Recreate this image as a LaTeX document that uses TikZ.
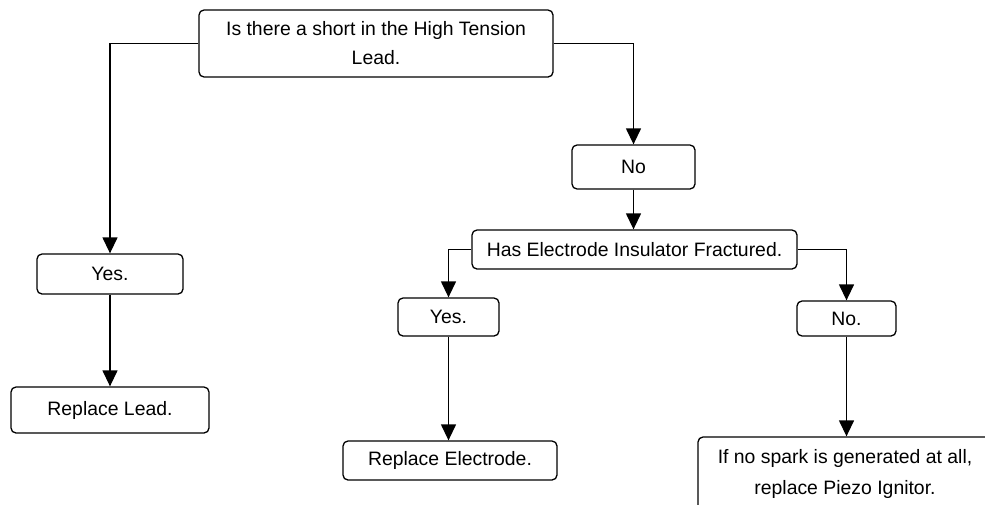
\documentclass[tikz,border=0pt]{standalone}
\usepackage{fontspec}
\setmainfont{Liberation Sans}
\usetikzlibrary{arrows.meta}
\begin{document}
\begin{tikzpicture}[x=1pt,y=-1pt,
  box/.style={draw, rounded corners=5pt, line width=1.3pt, align=center, inner sep=0pt,
    font=\fontsize{19.4pt}{29pt}\selectfont},
  conn/.style={line width=1.3pt, -{Triangle[width=15pt,length=16pt]}}]
\useasboundingbox (0,0) rectangle (985,504);
\node[box, minimum width=354pt, minimum height=67pt] (top) at (376,43.5) {Is there a short in the High Tension\\Lead.};
\node[box, minimum width=123pt, minimum height=44pt] (no) at (633.5,167) {No};
\node[box, minimum width=325pt, minimum height=39pt] (has) at (634.5,249.5) {Has Electrode Insulator Fractured.};
\node[box, minimum width=146pt, minimum height=40pt] (yesl) at (110,274) {Yes.};
\node[box, minimum width=198pt, minimum height=46pt] (repl) at (110,410) {Replace Lead.};
\node[box, minimum width=101pt, minimum height=38pt] (yesm) at (448.5,317) {Yes.};
\node[box, minimum width=214pt, minimum height=39pt] (repe) at (450,460.5) {Replace Electrode.};
\node[box, minimum width=99pt, minimum height=35pt] (nod) at (846.5,318.5) {No.};
\node[box, minimum width=294pt, minimum height=73pt, font=\fontsize{19.4pt}{31pt}\selectfont] (piezo) at (845,473.5) {If no spark is generated at all,\\replace Piezo Ignitor.};
\draw[conn] (top.west) -| (yesl.north);
\draw[conn] (top.east) -| (no.north);
\draw[conn] (no.south) -- (no.south |- has.north);
\draw[conn] (has.west) -| (yesm.north);
\draw[conn] (has.east) -| (nod.north);
\draw[conn] (yesl.south) -- (repl.north);
\draw[conn] (yesm.south) -- (yesm.south |- repe.north);
\draw[conn] (nod.south) -- (nod.south |- piezo.north);
\end{tikzpicture}
\end{document}
